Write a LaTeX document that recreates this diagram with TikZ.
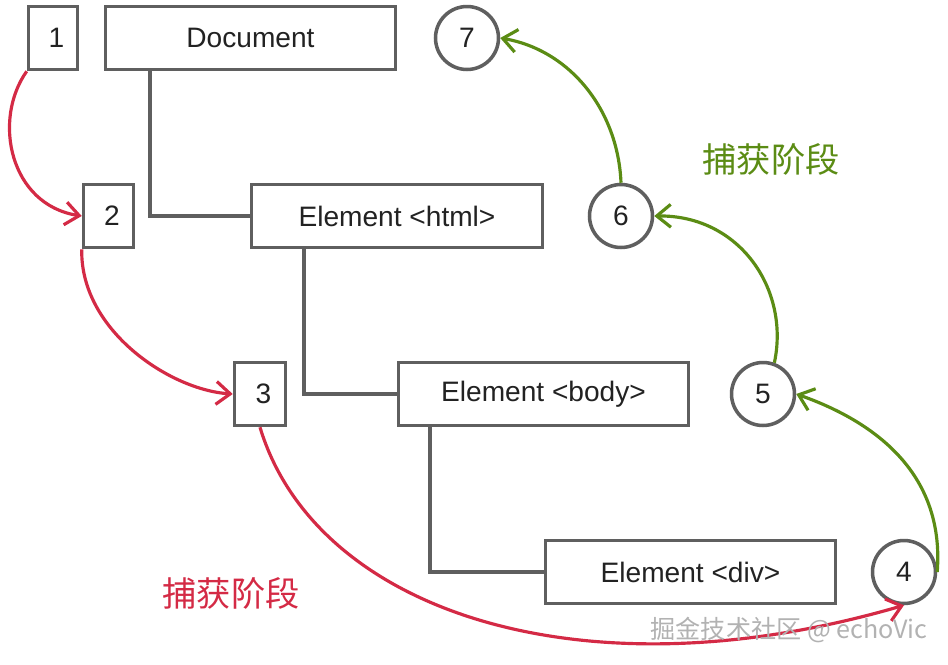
\documentclass[tikz,border=0pt]{standalone}
\usepackage{fontspec}
\setmainfont{Liberation Sans}
\newfontfamily\cjk{Noto Sans CJK SC}
\usetikzlibrary{arrows.meta}
\definecolor{boxgray}{HTML}{5F5F5F}
\definecolor{txt}{HTML}{222222}
\definecolor{redarr}{HTML}{D42A45}
\definecolor{greenarr}{HTML}{5B8C14}
\begin{document}
\begin{tikzpicture}[x=0.02cm,y=-0.02cm,
  box/.style={draw=boxgray,line width=2pt,minimum height=1.26cm,inner sep=0pt,text=txt,font=\fontsize{16}{19}\selectfont},
  circ/.style={draw=boxgray,line width=2pt,circle,minimum size=1.26cm,inner sep=0pt,text=txt,font=\fontsize{16}{19}\selectfont},
  tree/.style={draw=boxgray,line width=2pt},
  redc/.style={draw=redarr,line width=1.8pt,-{Straight Barb[length=8pt,width=13pt,line width=1.8pt]}},
  grnc/.style={draw=greenarr,line width=1.8pt,-{Straight Barb[length=8pt,width=13pt,line width=1.8pt]}},
]
\useasboundingbox (0,0) rectangle (948,664);
\fill[white] (0,0) rectangle (948,664);
% boxes
\node[box,minimum width=0.98cm] (b1) at (53,38) {\hspace*{4pt}1};
\node[box,minimum width=5.8cm] (doc) at (250.5,38) {Document};
\node[box,minimum width=1.0cm] (b2) at (108.5,216) {\hspace*{4pt}2};
\node[box,minimum width=5.82cm] (html) at (397,216) {Element <html>};
\node[box,minimum width=1.02cm] (b3) at (260,394) {\hspace*{4pt}3};
\node[box,minimum width=5.8cm] (body) at (543.5,394) {Element <body>};
\node[box,minimum width=5.8cm] (div) at (690.5,572) {Element <div>};
% circles
\node[circ] (c7) at (467,38) {7};
\node[circ] (c6) at (621,216) {6};
\node[circ] (c5) at (763,394) {5};
\node[circ] (c4) at (904,572) {4};
% tree lines
\draw[tree] ([xshift=0.92cm]doc.south west) |- (html.west);
\draw[tree] ([xshift=1.08cm]html.south west) |- (body.west);
\draw[tree] ([xshift=0.66cm]body.south west) |- (div.west);
% red arrows
\draw[redc] (b1.south west) .. controls (-8,120) and (10,205) .. (b2.west);
\draw[redc] (b2.south west) .. controls (80,330) and (170,390) .. (b3.west);
\draw[redc] (b3.south) .. controls (315,610) and (580,700) .. (c4.south);
% green arrows
\draw[grnc] (c4.east) .. controls (945,470) and (870,420) .. (c5.east);
\draw[grnc] (c5.70) .. controls (790,290) and (740,215) .. (c6.east);
\draw[grnc] (c6.north) .. controls (618,110) and (570,50) .. (c7.east);
% labels
\node[text=redarr,font=\cjk\fontsize{19.5}{22}\selectfont] (lr) at (231,593) {捕获阶段};
\node[text=greenarr,font=\cjk\fontsize{19.5}{22}\selectfont] (lg) at (771,159) {捕获阶段};
\node[text=gray!60,font=\cjk\fontsize{14.3}{17}\selectfont] (wm) at (789,630) {掘金技术社区 @ echoVic};
\end{tikzpicture}
\end{document}
